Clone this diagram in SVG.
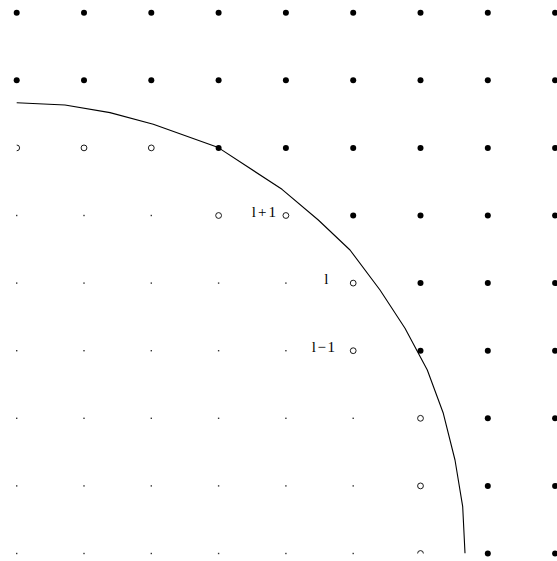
<svg xmlns="http://www.w3.org/2000/svg" xmlns:xlink="http://www.w3.org/1999/xlink" width="557" height="561" viewBox="0 0 557 561">
<style>
.f{fill:#000}
.o{fill:#fff;stroke:#000;stroke-width:0.9}
.s{fill:#333}
.c{fill:none;stroke:#000;stroke-width:1.1;stroke-linejoin:round}
.t{font-family:"Liberation Serif","Times New Roman",serif;font-size:15px;fill:#000}
</style>
<defs>
<circle id="F" r="3" class="f"/>
<circle id="O" r="2.9" class="o"/>
<rect id="S" x="-0.7" y="-0.7" width="1.4" height="1.4" class="s"/>
<clipPath id="clip"><rect x="16.7" y="0" width="541" height="553.6"/></clipPath>
</defs>
<rect width="557" height="561" fill="#fff"/>
<g id="filled">
<use xlink:href="#F" x="16.7" y="12.7"/><use xlink:href="#F" x="84" y="12.7"/><use xlink:href="#F" x="151.3" y="12.7"/><use xlink:href="#F" x="218.6" y="12.7"/><use xlink:href="#F" x="285.9" y="12.7"/><use xlink:href="#F" x="353.2" y="12.7"/><use xlink:href="#F" x="420.5" y="12.7"/><use xlink:href="#F" x="487.8" y="12.7"/><use xlink:href="#F" x="555.1" y="12.7"/>
<use xlink:href="#F" x="16.7" y="80.3"/><use xlink:href="#F" x="84" y="80.3"/><use xlink:href="#F" x="151.3" y="80.3"/><use xlink:href="#F" x="218.6" y="80.3"/><use xlink:href="#F" x="285.9" y="80.3"/><use xlink:href="#F" x="353.2" y="80.3"/><use xlink:href="#F" x="420.5" y="80.3"/><use xlink:href="#F" x="487.8" y="80.3"/><use xlink:href="#F" x="555.1" y="80.3"/>
<use xlink:href="#F" x="218.6" y="147.9"/><use xlink:href="#F" x="285.9" y="147.9"/><use xlink:href="#F" x="353.2" y="147.9"/><use xlink:href="#F" x="420.5" y="147.9"/><use xlink:href="#F" x="487.8" y="147.9"/><use xlink:href="#F" x="555.1" y="147.9"/>
<use xlink:href="#F" x="353.2" y="215.5"/><use xlink:href="#F" x="420.5" y="215.5"/><use xlink:href="#F" x="487.8" y="215.5"/><use xlink:href="#F" x="555.1" y="215.5"/>
<use xlink:href="#F" x="420.5" y="283.1"/><use xlink:href="#F" x="487.8" y="283.1"/><use xlink:href="#F" x="555.1" y="283.1"/>
<use xlink:href="#F" x="420.5" y="350.7"/><use xlink:href="#F" x="487.8" y="350.7"/><use xlink:href="#F" x="555.1" y="350.7"/>
<use xlink:href="#F" x="487.8" y="418.3"/><use xlink:href="#F" x="555.1" y="418.3"/>
<use xlink:href="#F" x="487.8" y="485.9"/><use xlink:href="#F" x="555.1" y="485.9"/>
<use xlink:href="#F" x="487.8" y="553.5"/><use xlink:href="#F" x="555.1" y="553.5"/>
</g>
<g id="small">
<use xlink:href="#S" x="16.7" y="215.5"/><use xlink:href="#S" x="84" y="215.5"/><use xlink:href="#S" x="151.3" y="215.5"/>
<use xlink:href="#S" x="16.7" y="283.1"/><use xlink:href="#S" x="84" y="283.1"/><use xlink:href="#S" x="151.3" y="283.1"/><use xlink:href="#S" x="218.6" y="283.1"/><use xlink:href="#S" x="285.9" y="283.1"/>
<use xlink:href="#S" x="16.7" y="350.7"/><use xlink:href="#S" x="84" y="350.7"/><use xlink:href="#S" x="151.3" y="350.7"/><use xlink:href="#S" x="218.6" y="350.7"/><use xlink:href="#S" x="285.9" y="350.7"/>
<use xlink:href="#S" x="16.7" y="418.3"/><use xlink:href="#S" x="84" y="418.3"/><use xlink:href="#S" x="151.3" y="418.3"/><use xlink:href="#S" x="218.6" y="418.3"/><use xlink:href="#S" x="285.9" y="418.3"/><use xlink:href="#S" x="353.2" y="418.3"/>
<use xlink:href="#S" x="16.7" y="485.9"/><use xlink:href="#S" x="84" y="485.9"/><use xlink:href="#S" x="151.3" y="485.9"/><use xlink:href="#S" x="218.6" y="485.9"/><use xlink:href="#S" x="285.9" y="485.9"/><use xlink:href="#S" x="353.2" y="485.9"/>
<use xlink:href="#S" x="16.7" y="553.5"/><use xlink:href="#S" x="84" y="553.5"/><use xlink:href="#S" x="151.3" y="553.5"/><use xlink:href="#S" x="218.6" y="553.5"/><use xlink:href="#S" x="285.9" y="553.5"/><use xlink:href="#S" x="353.2" y="553.5"/>
</g>
<g id="open" clip-path="url(#clip)">
<use xlink:href="#O" x="16.7" y="147.9"/><use xlink:href="#O" x="84" y="147.9"/><use xlink:href="#O" x="151.3" y="147.9"/>
<use xlink:href="#O" x="218.6" y="215.5"/><use xlink:href="#O" x="285.9" y="215.5"/>
<use xlink:href="#O" x="353.2" y="283.1"/>
<use xlink:href="#O" x="353.2" y="350.7"/>
<use xlink:href="#O" x="420.5" y="418.3"/><use xlink:href="#O" x="420.5" y="485.9"/><use xlink:href="#O" x="420.5" y="553.5"/>
</g>
<g id="curve">
<polyline class="c" points="16.7,102.7 65,105 110,112.6 153.3,124.3 218.3,147.6 282,189.3 318.3,220 350,250 380,290 405,328.3 427.3,370 443.3,413.3 455,460 462.7,506.7 465,553.3"/>
</g>
<g id="labels">
<text class="t" x="251.7" y="216.5" textLength="24.3" lengthAdjust="spacing">l+1</text>
<text class="t" x="324.3" y="284">l</text>
<text class="t" x="311.7" y="352" textLength="23.3" lengthAdjust="spacing">l−1</text>
</g>
</svg>
